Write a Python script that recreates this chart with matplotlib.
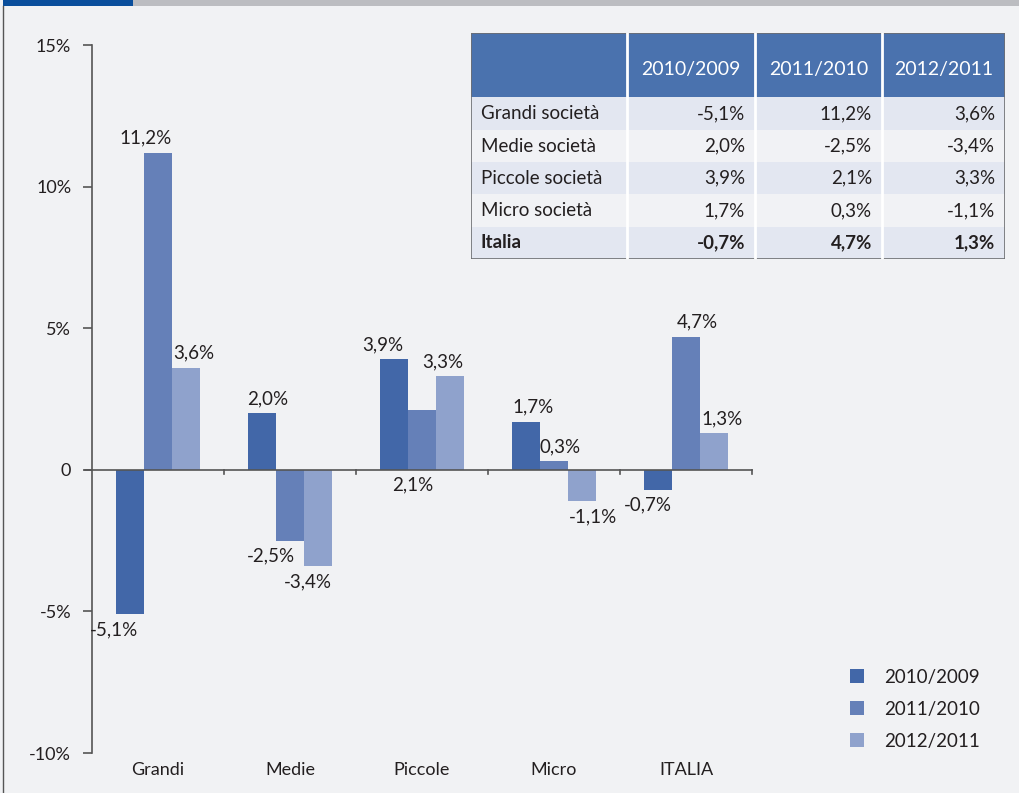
import numpy as np
import matplotlib
matplotlib.use("Agg")
import matplotlib.pyplot as plt
from matplotlib.patches import Rectangle

# -----------------------------
# Data
# -----------------------------
categories = ["Grandi", "Medie", "Piccole", "Micro", "ITALIA"]
row_names = ["Grandi società", "Medie società", "Piccole società", "Micro società", "Italia"]
series_names = ["2010/2009", "2011/2010", "2012/2011"]
v2010 = [-5.1, 2.0, 3.9, 1.7, -0.7]
v2011 = [11.2, -2.5, 2.1, 0.3, 4.7]
v2012 = [3.6, -3.4, 3.3, -1.1, 1.3]
y_ticks = [15, 10, 5, 0, -5, -10]
y_tick_labels = ["15%", "10%", "5%", "0", "-5%", "-10%"]

# -----------------------------
# Style
# -----------------------------
BG = "#f1f2f4"
COLORS = ["#4267a8", "#6580b8", "#8fa2cc"]
HEADER = "#4a72ae"
ROW_A = "#e3e7f1"
ROW_B = "#f1f2f5"
TXT = "#231f20"
AXC = "#555555"
plt.rcParams["font.family"] = ["Lato", "DejaVu Sans"]

def fmt(v):
    return f"{v:.1f}%".replace(".", ",")

# label nudges (px) so labels don't collide, as in the original layout
label_dx = [[-16, -12, 8], [6, -19, -10], [-11, -9, -7], [7, 6, 11], [-10, 11, 8]]
label_below = [[False] * 5, [False] * 5, [False] * 5]
label_below[1][2] = True  # 2,1% sits under the zero line

W, H = 1020, 793
PX = 0.72  # points per pixel at dpi 100
fig = plt.figure(figsize=(W / 100, H / 100), dpi=100, facecolor=BG)

# top band + left border
fig.add_artist(Rectangle((3 / W, 1 - 6 / H), 130 / W, 6 / H, transform=fig.transFigure,
                         color="#0a4f9c", lw=0))
fig.add_artist(Rectangle((133 / W, 1 - 6 / H), (W - 133) / W, 6 / H, transform=fig.transFigure,
                         color="#bcbdc1", lw=0))
fig.add_artist(plt.Line2D([3.5 / W, 3.5 / W], [0, 1 - 6 / H], transform=fig.transFigure,
                          color=AXC, lw=1))

# -----------------------------
# Bars
# -----------------------------
ax = fig.add_axes([92 / W, 1 - 753 / H, 660 / W, 708 / H])
ax.set_facecolor("none")
ax.set_xlim(-0.5, 4.5)
ax.set_ylim(-10, 15)
x = np.arange(len(categories))
bw = 28 / 132
series = [v2010, v2011, v2012]
for i, vals in enumerate(series):
    xs = x + (i - 1) * bw
    ax.bar(xs, vals, width=bw, color=COLORS[i], label=series_names[i], zorder=2)
    for j, v in enumerate(vals):
        below = v < 0 or label_below[i][j]
        off = -7 if below else 6
        ax.annotate(fmt(v), (xs[j], v if v < 0 else (0 if below else v)),
                    xytext=(label_dx[j][i] * PX, off * PX), textcoords="offset points",
                    ha="center", va="top" if below else "bottom",
                    fontsize=13.5, color=TXT)

for s in ["top", "right", "bottom"]:
    ax.spines[s].set_visible(False)
ax.spines["left"].set_color(AXC)
ax.spines["left"].set_linewidth(1.2)
ax.set_yticks(y_ticks)
ax.set_yticklabels(y_tick_labels, fontsize=13, color=TXT)
ax.tick_params(axis="y", length=6.5, width=1.2, color=AXC, pad=8.5)
ax.set_xticks([])
ax.plot([-0.555, 4.5], [0, 0], color=AXC, lw=1.2, clip_on=False, zorder=3)
for k in range(1, 6):
    ax.plot([k - 0.5, k - 0.5], [0, -0.15], color=AXC, lw=1.2, clip_on=False, zorder=3)
for j, c in enumerate(categories):
    ax.annotate(c, (x[j], -10), xytext=(0, -9 * PX), textcoords="offset points",
                ha="center", va="top", fontsize=13, color=TXT)

# legend
leg = fig.legend(loc="upper left", bbox_to_anchor=(833 / W, 1 - 652 / H), frameon=False,
                 fontsize=13.5, handlelength=0.75, handleheight=0.75, handletextpad=1.1,
                 labelspacing=0.8, labelcolor=TXT)

# -----------------------------
# Table
# -----------------------------
tx0, ty0, tw, th = 471, 33, 534, 226
tax = fig.add_axes([tx0 / W, 1 - (ty0 + th) / H, tw / W, th / H])
tax.set_xlim(0, tw)
tax.set_ylim(th, 0)
tax.axis("off")
col_x = [0, 156, 284, 411, tw]
row_y = [0, 64, 97, 129, 161, 194, 226]
tax.add_patch(Rectangle((0, 0), tw, row_y[1], color=HEADER, lw=0))
for r in range(5):
    tax.add_patch(Rectangle((0, row_y[r + 1]), tw, row_y[r + 2] - row_y[r + 1],
                            color=ROW_A if r % 2 == 0 else ROW_B, lw=0))
for cx in col_x[1:-1]:
    tax.plot([cx, cx], [0, th], color="white", lw=2)
tax.add_patch(Rectangle((0, 0), tw, th, fill=False, ec="#6d6e71", lw=1.2))
for c in range(3):
    tax.text((col_x[c + 1] + col_x[c + 2]) / 2, row_y[1] / 2 + 5, series_names[c],
             ha="center", va="center", color="white", fontsize=14)
for r in range(5):
    yc = (row_y[r + 1] + row_y[r + 2]) / 2
    bold = "bold" if r == 4 else "normal"
    tax.text(10, yc, row_names[r], ha="left", va="center", fontsize=13.5,
             color=TXT, fontweight=bold)
    for c in range(3):
        tax.text(col_x[c + 2] - 10, yc, fmt(series[c][r]), ha="right", va="center",
                 fontsize=13.5, color=TXT, fontweight=bold)

fig.savefig("out.png", dpi=100, facecolor=BG)
